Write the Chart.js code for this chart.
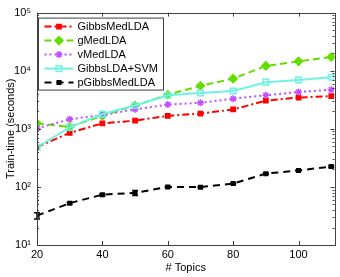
<!DOCTYPE html>
<html>
<head>
<meta charset="utf-8">
<script src="https://cdn.jsdelivr.net/npm/chart.js@4.4.0/dist/chart.umd.min.js"></script>
<style>
  html, body { margin: 0; padding: 0; background: #fff; }
</style>
</head>
<body>
<canvas id="chart" width="340" height="277"></canvas>
<script>
// ----------------------------
// Data
// ----------------------------
const topics = [20, 30, 40, 50, 60, 70, 80, 90, 100, 110];

const gibbsMedLDA = [485, 850, 1240, 1380, 1670, 1830, 2150, 3050, 3450, 3650];
const gMedLDA = [1240, 1080, 1680, 2500, 3850, 5500, 7300, 12100, 14500, 17200];
const vMedLDA = [1020, 1460, 1720, 2160, 2620, 2800, 3300, 3780, 4300, 4700];
const gibbsLdaSvm = [480, 1060, 1800, 2520, 3780, 4130, 4480, 6340, 6920, 7700];
const pGibbsMedLDA = [32, 52.5, 73.5, 79, 100, 99, 114, 169, 192, 224];
const pGibbsErr = [4, 2, 3, 8, 3, 2, 3, 5, 5, 8];

const xTicks = [20, 40, 60, 80, 100];
const yTicks = [10, 100, 1000, 10000, 100000];
const yTickLabels = ["10\u00b9", "10\u00b2", "10\u00b3", "10\u2074", "10\u2075"];

const FONT = "'Liberation Sans', Arial, Helvetica, sans-serif";

// ----------------------------
// Plugins
// ----------------------------
// box around the axes with inward ticks (MATLAB style)
const boxTicks = {
  id: "boxTicks",
  afterDraw(chart) {
    const { ctx, chartArea: a, scales } = chart;
    const x = scales.x, y = scales.y;
    ctx.save();
    ctx.strokeStyle = "#404040";
    ctx.lineWidth = 1;
    ctx.strokeRect(Math.round(a.left) + 0.5, Math.round(a.top) + 0.5,
      Math.round(a.right - a.left), Math.round(a.bottom - a.top));
    ctx.beginPath();
    xTicks.forEach(v => {
      const px = Math.round(x.getPixelForValue(v)) + 0.5;
      ctx.moveTo(px, a.bottom); ctx.lineTo(px, a.bottom - 4);
      ctx.moveTo(px, a.top); ctx.lineTo(px, a.top + 4);
    });
    for (let d = 10; d <= 100000; d *= 10) {
      for (let m = 1; m <= 9; m++) {
        const v = d * m;
        if (v > 100000) break;
        const len = m === 1 ? 4 : 2;
        const py = Math.round(y.getPixelForValue(v)) + 0.5;
        ctx.moveTo(a.left, py); ctx.lineTo(a.left + len, py);
        ctx.moveTo(a.right, py); ctx.lineTo(a.right - len, py);
      }
    }
    ctx.stroke();
    ctx.restore();
  }
};

// small error bars on pGibbsMedLDA
const errorBars = {
  id: "errorBars",
  afterDatasetsDraw(chart) {
    const { ctx, scales } = chart;
    ctx.save();
    ctx.strokeStyle = "#000";
    ctx.lineWidth = 1.5;
    ctx.beginPath();
    topics.forEach((t, i) => {
      const px = scales.x.getPixelForValue(t);
      const hi = scales.y.getPixelForValue(pGibbsMedLDA[i] + pGibbsErr[i]);
      const lo = scales.y.getPixelForValue(pGibbsMedLDA[i] - pGibbsErr[i]);
      ctx.moveTo(px, hi); ctx.lineTo(px, lo);
      ctx.moveTo(px - 3, hi); ctx.lineTo(px + 3, hi);
      ctx.moveTo(px - 3, lo); ctx.lineTo(px + 3, lo);
    });
    ctx.stroke();
    ctx.restore();
  }
};

// boxed legend in the upper left corner of the axes
const boxLegend = {
  id: "boxLegend",
  afterDraw(chart) {
    const { ctx, chartArea: a } = chart;
    const ds = chart.data.datasets;
    const bx = a.left + 1.5, by = a.top + 5.5, bw = 125, bh = 72;
    ctx.save();
    ctx.fillStyle = "#fff";
    ctx.fillRect(bx, by, bw, bh);
    ctx.strokeStyle = "#404040";
    ctx.lineWidth = 1;
    ctx.strokeRect(bx, by, bw, bh);
    ctx.font = "11px " + FONT;
    ctx.textBaseline = "middle";
    ds.forEach((d, i) => {
      const ry = by + 8.5 + i * 14;
      ctx.save();
      ctx.strokeStyle = d.borderColor;
      ctx.lineWidth = d.borderWidth;
      ctx.setLineDash(d.borderDash);
      ctx.beginPath();
      ctx.moveTo(bx + 6, ry); ctx.lineTo(bx + 35, ry);
      ctx.stroke();
      ctx.setLineDash([]);
      ctx.strokeStyle = d.pointBorderColor;
      ctx.fillStyle = d.pointBackgroundColor;
      ctx.lineWidth = d.pointBorderWidth;
      Chart.helpers.drawPoint(ctx, {
        pointStyle: d.pointStyle, radius: d.pointRadius,
        borderWidth: d.pointBorderWidth, rotation: 0
      }, bx + 20.5, ry);
      ctx.restore();
      ctx.fillStyle = "#000";
      ctx.fillText(d.label, bx + 39, ry + 0.5);
    });
    ctx.restore();
  }
};

// ----------------------------
// Chart
// ----------------------------
function series(label, data, color, dash, style, radius, fill, order) {
  return {
    label: label,
    data: data.map((v, i) => ({ x: topics[i], y: v })),
    borderColor: color,
    backgroundColor: fill ? color : "rgba(0,0,0,0)",
    borderWidth: 2,
    borderDash: dash,
    pointStyle: style,
    pointRadius: radius,
    pointBorderWidth: 1.5,
    pointBorderColor: color,
    pointBackgroundColor: fill ? color : "rgba(0,0,0,0)",
    tension: 0,
    order: order
  };
}

const ctxChart = document.getElementById("chart").getContext("2d");

const chart = new Chart(ctxChart, {
  type: "line",
  data: {
    datasets: [
      series("GibbsMedLDA", gibbsMedLDA, "#ff0000", [7, 3, 2, 3], "rect", 3, true, 5),
      series("gMedLDA", gMedLDA, "#66dd00", [7, 4], "rectRot", 4, true, 4),
      series("vMedLDA", vMedLDA, "#c050ff", [2, 3], "star", 3.5, true, 3),
      series("GibbsLDA+SVM", gibbsLdaSvm, "#6ff2e0", [], "rect", 4, false, 2),
      series("pGibbsMedLDA", pGibbsMedLDA, "#000000", [7, 5], "rect", 2.5, true, 1)
    ]
  },
  options: {
    responsive: false,
    animation: false,
    layout: { padding: { top: 8, right: 4, left: 0, bottom: 0 } },
    plugins: {
      legend: { display: false },
      tooltip: { enabled: false }
    },
    scales: {
      x: {
        type: "linear",
        min: 20,
        max: 111,
        afterBuildTicks: s => { s.ticks = xTicks.map(v => ({ value: v })); },
        afterFit: s => { s.height = 32; },
        grid: { display: false, drawTicks: false },
        border: { display: false },
        ticks: { color: "#000", font: { family: FONT, size: 11 }, padding: 3, maxRotation: 0 },
        title: { display: true, text: "# Topics", color: "#000", font: { family: FONT, size: 11 }, padding: 2 }
      },
      y: {
        type: "logarithmic",
        min: 10,
        max: 100000,
        afterBuildTicks: s => { s.ticks = yTicks.map(v => ({ value: v })); },
        afterFit: s => { s.width = 37; },
        grid: { display: false, drawTicks: false },
        border: { display: false },
        ticks: {
          color: "#000",
          font: { family: FONT, size: 11 },
          padding: 6,
          callback: v => yTickLabels[yTicks.indexOf(v)] || ""
        },
        title: { display: true, text: "Train-time (seconds)", color: "#000", font: { family: FONT, size: 11 }, padding: 4 }
      }
    }
  },
  plugins: [boxTicks, errorBars, boxLegend]
});
</script>
</body>
</html>
